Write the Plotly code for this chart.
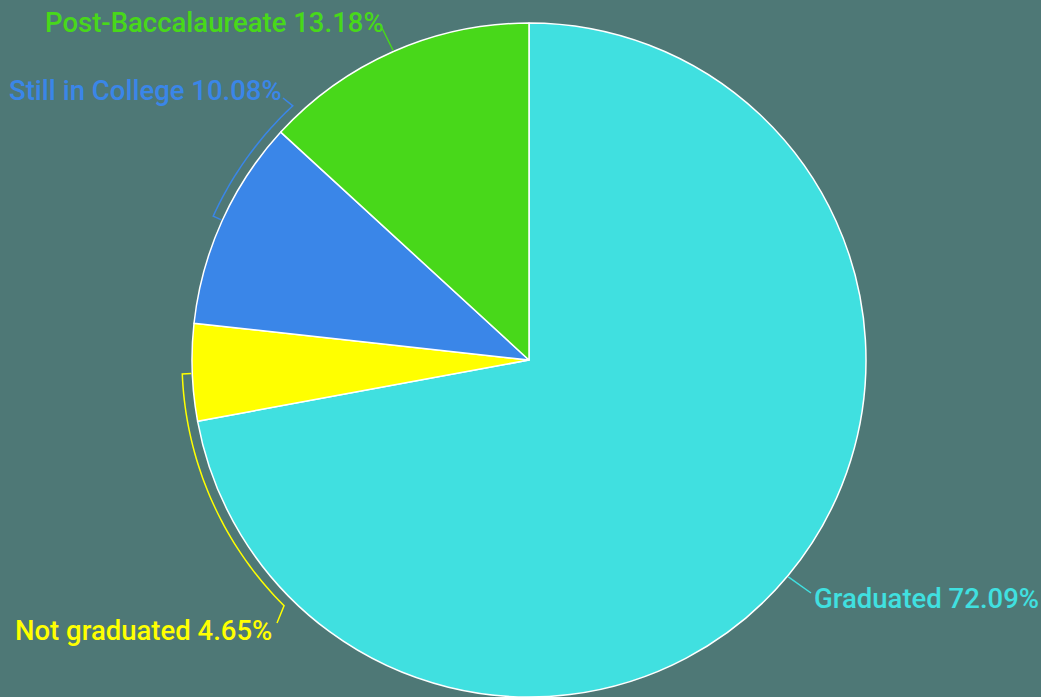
import numpy as np
import plotly.graph_objects as go

# data
labels = ['Graduated', 'Not graduated', 'Still in College', 'Post-Baccalaureate']
values = [72.09, 4.65, 10.08, 13.18]
colors = ['#40e0e0', '#ffff00', '#3a86e8', '#48d81a']

W, H = 1041, 697
CX, CY, R = 529, 360, 337
BG = '#4e7876'


def px(x):
    return x / W


def py(y):
    return 1 - y / H


def polar(angle_deg, radius):
    a = np.radians(angle_deg)
    return CX + radius * np.cos(a), CY - radius * np.sin(a)


def path_from(points):
    return 'M ' + ' L '.join(f'{px(x):.5f},{py(y):.5f}' for x, y in points)


fig = go.Figure()

fig.add_trace(go.Pie(
    labels=labels,
    values=values,
    sort=False,
    direction='clockwise',
    rotation=0,
    textinfo='none',
    hoverinfo='label+percent',
    marker=dict(colors=colors, line=dict(color='white', width=1.5)),
    domain=dict(x=[px(CX - R), px(CX + R)], y=[py(CY + R), py(CY - R)]),
    showlegend=False
))

# label placement (pixels) and leader-line style per slice
label_layout = {
    'Graduated': dict(x=812, y=598, anchor='left',
                      edge=-39.9, end=(811, 593)),
    'Not graduated': dict(x=274, y=630, anchor='right',
                          arc=(182.3, 225.1), end=(277, 623)),
    'Still in College': dict(x=284, y=90, anchor='right',
                             arc=(155.5, 132.9), end=(283, 98)),
    'Post-Baccalaureate': dict(x=386, y=23, anchor='right',
                               edge=113.7, end=(382, 28)),
}

total = sum(values)
shapes = []
annotations = []
for lab, val, col in zip(labels, values, colors):
    lay = label_layout[lab]
    if 'arc' in lay:
        a0, a1 = lay['arc']
        pts = [polar(a0, R + 1)]
        pts += [polar(a, R + 10) for a in np.linspace(a0, a1, 40)]
        pts.append(lay['end'])
    else:
        pts = [polar(lay['edge'], R + 1), lay['end']]
    shapes.append(dict(type='path', xref='paper', yref='paper',
                       path=path_from(pts), line=dict(color=col, width=1.5)))
    annotations.append(dict(
        x=px(lay['x']), y=py(lay['y']), xref='paper', yref='paper',
        xanchor=lay['anchor'], yanchor='middle', showarrow=False,
        text=f'{lab} {val / total * 100:.2f}%',
        font=dict(family='Roboto', size=27.5, weight=500, color=col)
    ))

fig.update_layout(
    width=W,
    height=H,
    margin=dict(l=0, r=0, t=0, b=0),
    paper_bgcolor=BG,
    plot_bgcolor=BG,
    shapes=shapes,
    annotations=annotations
)

fig.write_html('out.html', config={'displayModeBar': False},
               post_script="document.body.style.margin='0';")
